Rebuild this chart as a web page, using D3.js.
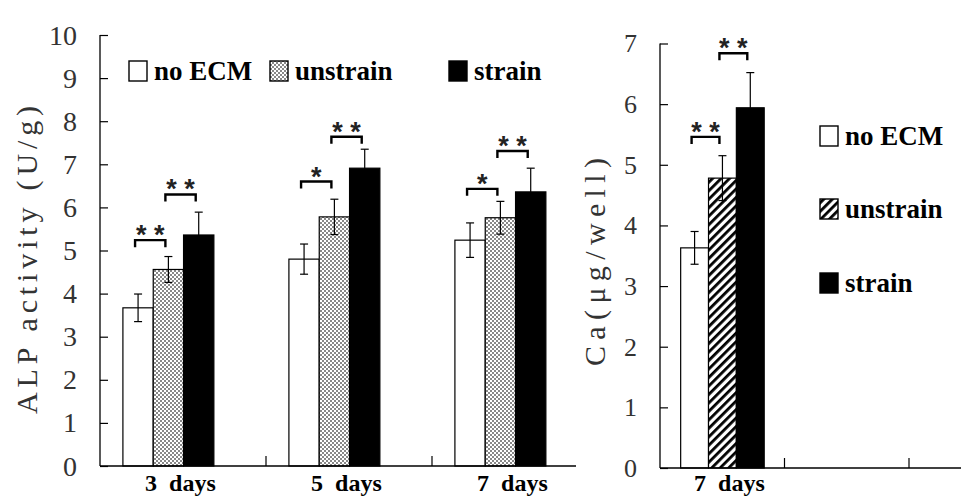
<!DOCTYPE html>
<html>
<head>
<meta charset="utf-8">
<script src="https://cdn.jsdelivr.net/npm/d3@7"></script>
<style>
  body { margin: 0; background: #fff; }
  svg { display: block; }
  .serif { font-family: "Liberation Serif", "Times New Roman", Times, "DejaVu Serif", serif; }
  .stars { font-family: "Liberation Sans", Arial, sans-serif; font-weight: bold; }
</style>
</head>
<body>
<div id="chart"></div>
<script>
// groups shared by both panels
const groups = ["no ECM", "unstrain", "strain"];

// ALP activity (left panel)
const alpDays = ["3 days", "5 days", "7 days"];
const alpMean = [
  [3.67, 4.56, 5.36],
  [4.80, 5.78, 6.91],
  [5.24, 5.76, 6.36],
];
const alpErr = [
  [0.32, 0.30, 0.53],
  [0.35, 0.41, 0.44],
  [0.40, 0.38, 0.55],
];
const alpTicks = [0, 1, 2, 3, 4, 5, 6, 7, 8, 9, 10];
// significance brackets: day index, bar from, bar to, bracket height (U/g), label
const alpSig = [
  [0, 0, 1, 5.24, "* *"],
  [0, 1, 2, 6.30, "* *"],
  [1, 0, 1, 6.60, "*"],
  [1, 1, 2, 7.64, "* *"],
  [2, 0, 1, 6.43, "*"],
  [2, 1, 2, 7.31, "* *"],
];

// Ca content (right panel)
const caDays = ["7 days"];
const caMean = [[3.63, 4.78, 5.94]];
const caErr = [[0.27, 0.37, 0.58]];
const caTicks = [0, 1, 2, 3, 4, 5, 6, 7];
const caSig = [
  [0, 0, 1, 5.46, "* *"],
  [0, 1, 2, 6.84, "* *"],
];

const width = 961;
const height = 503;

const svg = d3.select("#chart").append("svg")
  .attr("width", width)
  .attr("height", height);

const defs = svg.append("defs");

// fine dotted fill for "unstrain" on the left
const dots = defs.append("pattern")
  .attr("id", "dots")
  .attr("patternUnits", "userSpaceOnUse")
  .attr("width", 4).attr("height", 4);
dots.append("rect").attr("width", 4).attr("height", 4).attr("fill", "#fff");
dots.append("rect").attr("width", 2).attr("height", 2).attr("fill", "#888");
dots.append("rect").attr("x", 2).attr("y", 2).attr("width", 2).attr("height", 2).attr("fill", "#888");

// diagonal hatch for "unstrain" on the right
const hatch = defs.append("pattern")
  .attr("id", "hatch")
  .attr("patternUnits", "userSpaceOnUse")
  .attr("width", 6).attr("height", 6)
  .attr("patternTransform", "rotate(45)");
hatch.append("rect").attr("width", 6).attr("height", 6).attr("fill", "#fff");
hatch.append("rect").attr("width", 2.8).attr("height", 6).attr("fill", "#000");

function drawPanel(cfg) {
  const g = svg.append("g");

  const y = d3.scaleLinear().domain(cfg.yDomain).range([cfg.bottom, cfg.top]);
  const x = d3.scaleBand().domain(cfg.days).range(cfg.xRange);
  const bw = x.bandwidth();
  const sub = d3.scaleBand().domain(groups)
    .range([bw * cfg.groupStart, bw * cfg.groupEnd]);

  const fills = ["#fff", cfg.pattern, "#000"];

  // bars
  cfg.days.forEach((day, i) => {
    const dg = g.append("g").attr("transform", `translate(${x(day)},0)`);

    dg.selectAll("rect.bar")
      .data(groups)
      .join("rect")
      .attr("class", "bar")
      .attr("x", (d) => sub(d))
      .attr("y", (d, j) => y(cfg.mean[i][j]))
      .attr("width", sub.bandwidth())
      .attr("height", (d, j) => y(0) - y(cfg.mean[i][j]))
      .attr("fill", (d, j) => fills[j])
      .attr("stroke", "#000")
      .attr("stroke-width", 1.2);

    // error bars
    const eb = dg.selectAll("g.err")
      .data(groups)
      .join("g")
      .attr("class", "err")
      .attr("stroke", "#000")
      .attr("stroke-width", 1.2);
    const cx = (d) => sub(d) + sub.bandwidth() / 2;
    const hi = (d, j) => y(cfg.mean[i][j] + cfg.err[i][j]);
    const lo = (d, j) => y(cfg.mean[i][j] - cfg.err[i][j]);
    eb.append("line")
      .attr("x1", cx).attr("x2", cx)
      .attr("y1", hi).attr("y2", lo);
    eb.append("line")
      .attr("x1", (d) => cx(d) - 4).attr("x2", (d) => cx(d) + 4)
      .attr("y1", hi).attr("y2", hi);
    eb.append("line")
      .attr("x1", (d) => cx(d) - 4).attr("x2", (d) => cx(d) + 4)
      .attr("y1", lo).attr("y2", lo);
  });

  // significance brackets
  cfg.sig.forEach(([di, a, b, level, label]) => {
    const day = cfg.days[di];
    const x1 = x(day) + sub(groups[a]) + sub.bandwidth() / 2 - 3;
    const x2 = x(day) + sub(groups[b]) + sub.bandwidth() / 2 - 3;
    const yy = y(level);
    g.append("path")
      .attr("d", `M${x1},${yy + 7}V${yy}H${x2}V${yy + 7}`)
      .attr("fill", "none")
      .attr("stroke", "#000")
      .attr("stroke-width", 2.4);
    g.append("text")
      .attr("class", "stars")
      .attr("x", (x1 + x2) / 2)
      .attr("y", yy + 4)
      .attr("text-anchor", "middle")
      .attr("font-size", 27)
      .attr("fill", "#222")
      .text(label);
  });

  // y axis (ticks pointing inward)
  const yAxis = g.append("g")
    .attr("transform", `translate(${cfg.xRange[0]},0)`)
    .call(d3.axisRight(y).tickValues(cfg.ticks).tickSize(8).tickFormat(""));
  yAxis.select(".domain").attr("d", `M0,${cfg.top}V${cfg.bottom}`).attr("stroke-width", 1.3);
  yAxis.selectAll(".tick line").attr("stroke-width", 1.2);

  g.selectAll("text.ytick")
    .data(cfg.ticks)
    .join("text")
    .attr("class", "ytick serif")
    .attr("x", cfg.labelRight)
    .attr("y", (d) => y(d))
    .attr("dy", "0.34em")
    .attr("text-anchor", "end")
    .attr("font-size", cfg.tickFont)
    .attr("fill", "#333")
    .text((d) => d);

  // x axis line plus upward ticks between categories
  g.append("line")
    .attr("x1", cfg.xRange[0]).attr("x2", cfg.axisEnd)
    .attr("y1", y(0)).attr("y2", y(0))
    .attr("stroke", "#000").attr("stroke-width", 1.3);
  g.selectAll("line.xtick")
    .data(cfg.xTicks(x, bw))
    .join("line")
    .attr("class", "xtick")
    .attr("x1", (d) => d).attr("x2", (d) => d)
    .attr("y1", y(0)).attr("y2", y(0) - 10)
    .attr("stroke", "#000").attr("stroke-width", 1.2);

  g.selectAll("text.xlab")
    .data(cfg.days)
    .join("text")
    .attr("class", "xlab serif")
    .attr("x", (d) => x(d) + bw * (cfg.groupStart + cfg.groupEnd) / 2 + cfg.labelShift)
    .attr("y", 491)
    .attr("text-anchor", "middle")
    .attr("font-weight", "bold")
    .attr("font-size", 24)
    .attr("fill", "#000")
    .attr("xml:space", "preserve")
    .text((d) => d.replace(" ", "\u00a0 "));

  // rotated y title
  g.append("text")
    .attr("class", "serif")
    .attr("transform", `translate(${cfg.titleX},${cfg.titleY}) rotate(-90)`)
    .attr("text-anchor", "middle")
    .attr("font-size", cfg.titleFont)
    .attr("fill", "#333")
    .attr("textLength", cfg.titleLength)
    .attr("lengthAdjust", "spacing")
    .text(cfg.title);

  // legend
  const lg = g.selectAll("g.legend")
    .data(groups)
    .join("g")
    .attr("class", "legend")
    .attr("transform", (d, j) => `translate(${cfg.legend[j][0]},${cfg.legend[j][1]})`);
  lg.append("rect")
    .attr("x", 0).attr("y", -19)
    .attr("width", 18).attr("height", 20)
    .attr("fill", (d, j) => fills[j])
    .attr("stroke", "#000")
    .attr("stroke-width", 1.4);
  lg.append("text")
    .attr("class", "serif")
    .attr("x", 25)
    .attr("y", 0)
    .attr("font-weight", "bold")
    .attr("font-size", 27)
    .attr("fill", "#000")
    .text((d) => d);
}

drawPanel({
  days: alpDays,
  mean: alpMean,
  err: alpErr,
  sig: alpSig,
  ticks: alpTicks,
  yDomain: [0, 10],
  top: 35,
  bottom: 466,
  xRange: [100, 598],
  axisEnd: 576,
  groupStart: 0.138,
  groupEnd: 0.686,
  pattern: "url(#dots)",
  xTicks: (x, bw) => alpDays.slice(0, -1).map((d) => x(d) + bw),
  labelRight: 77,
  labelShift: 12,
  tickFont: 28,
  title: "ALP activity (U/g)",
  titleX: 37,
  titleY: 260,
  titleFont: 30,
  titleLength: 308,
  legend: [[129, 80], [270, 80], [449, 80]],
});

drawPanel({
  days: caDays,
  mean: caMean,
  err: caErr,
  sig: caSig,
  ticks: caTicks,
  yDomain: [0, 7],
  top: 43.5,
  bottom: 468,
  xRange: [660, 784.5],
  axisEnd: 961,
  groupStart: 0.166,
  groupEnd: 0.837,
  pattern: "url(#hatch)",
  xTicks: (x, bw) => [1, 2].map((k) => x(caDays[0]) + k * bw),
  labelRight: 637,
  labelShift: 7,
  tickFont: 26,
  title: "Ca(μg/well)",
  titleX: 605,
  titleY: 262,
  titleFont: 30,
  titleLength: 208,
  legend: [[820, 145], [820, 218], [820, 292]],
});
</script>
</body>
</html>
